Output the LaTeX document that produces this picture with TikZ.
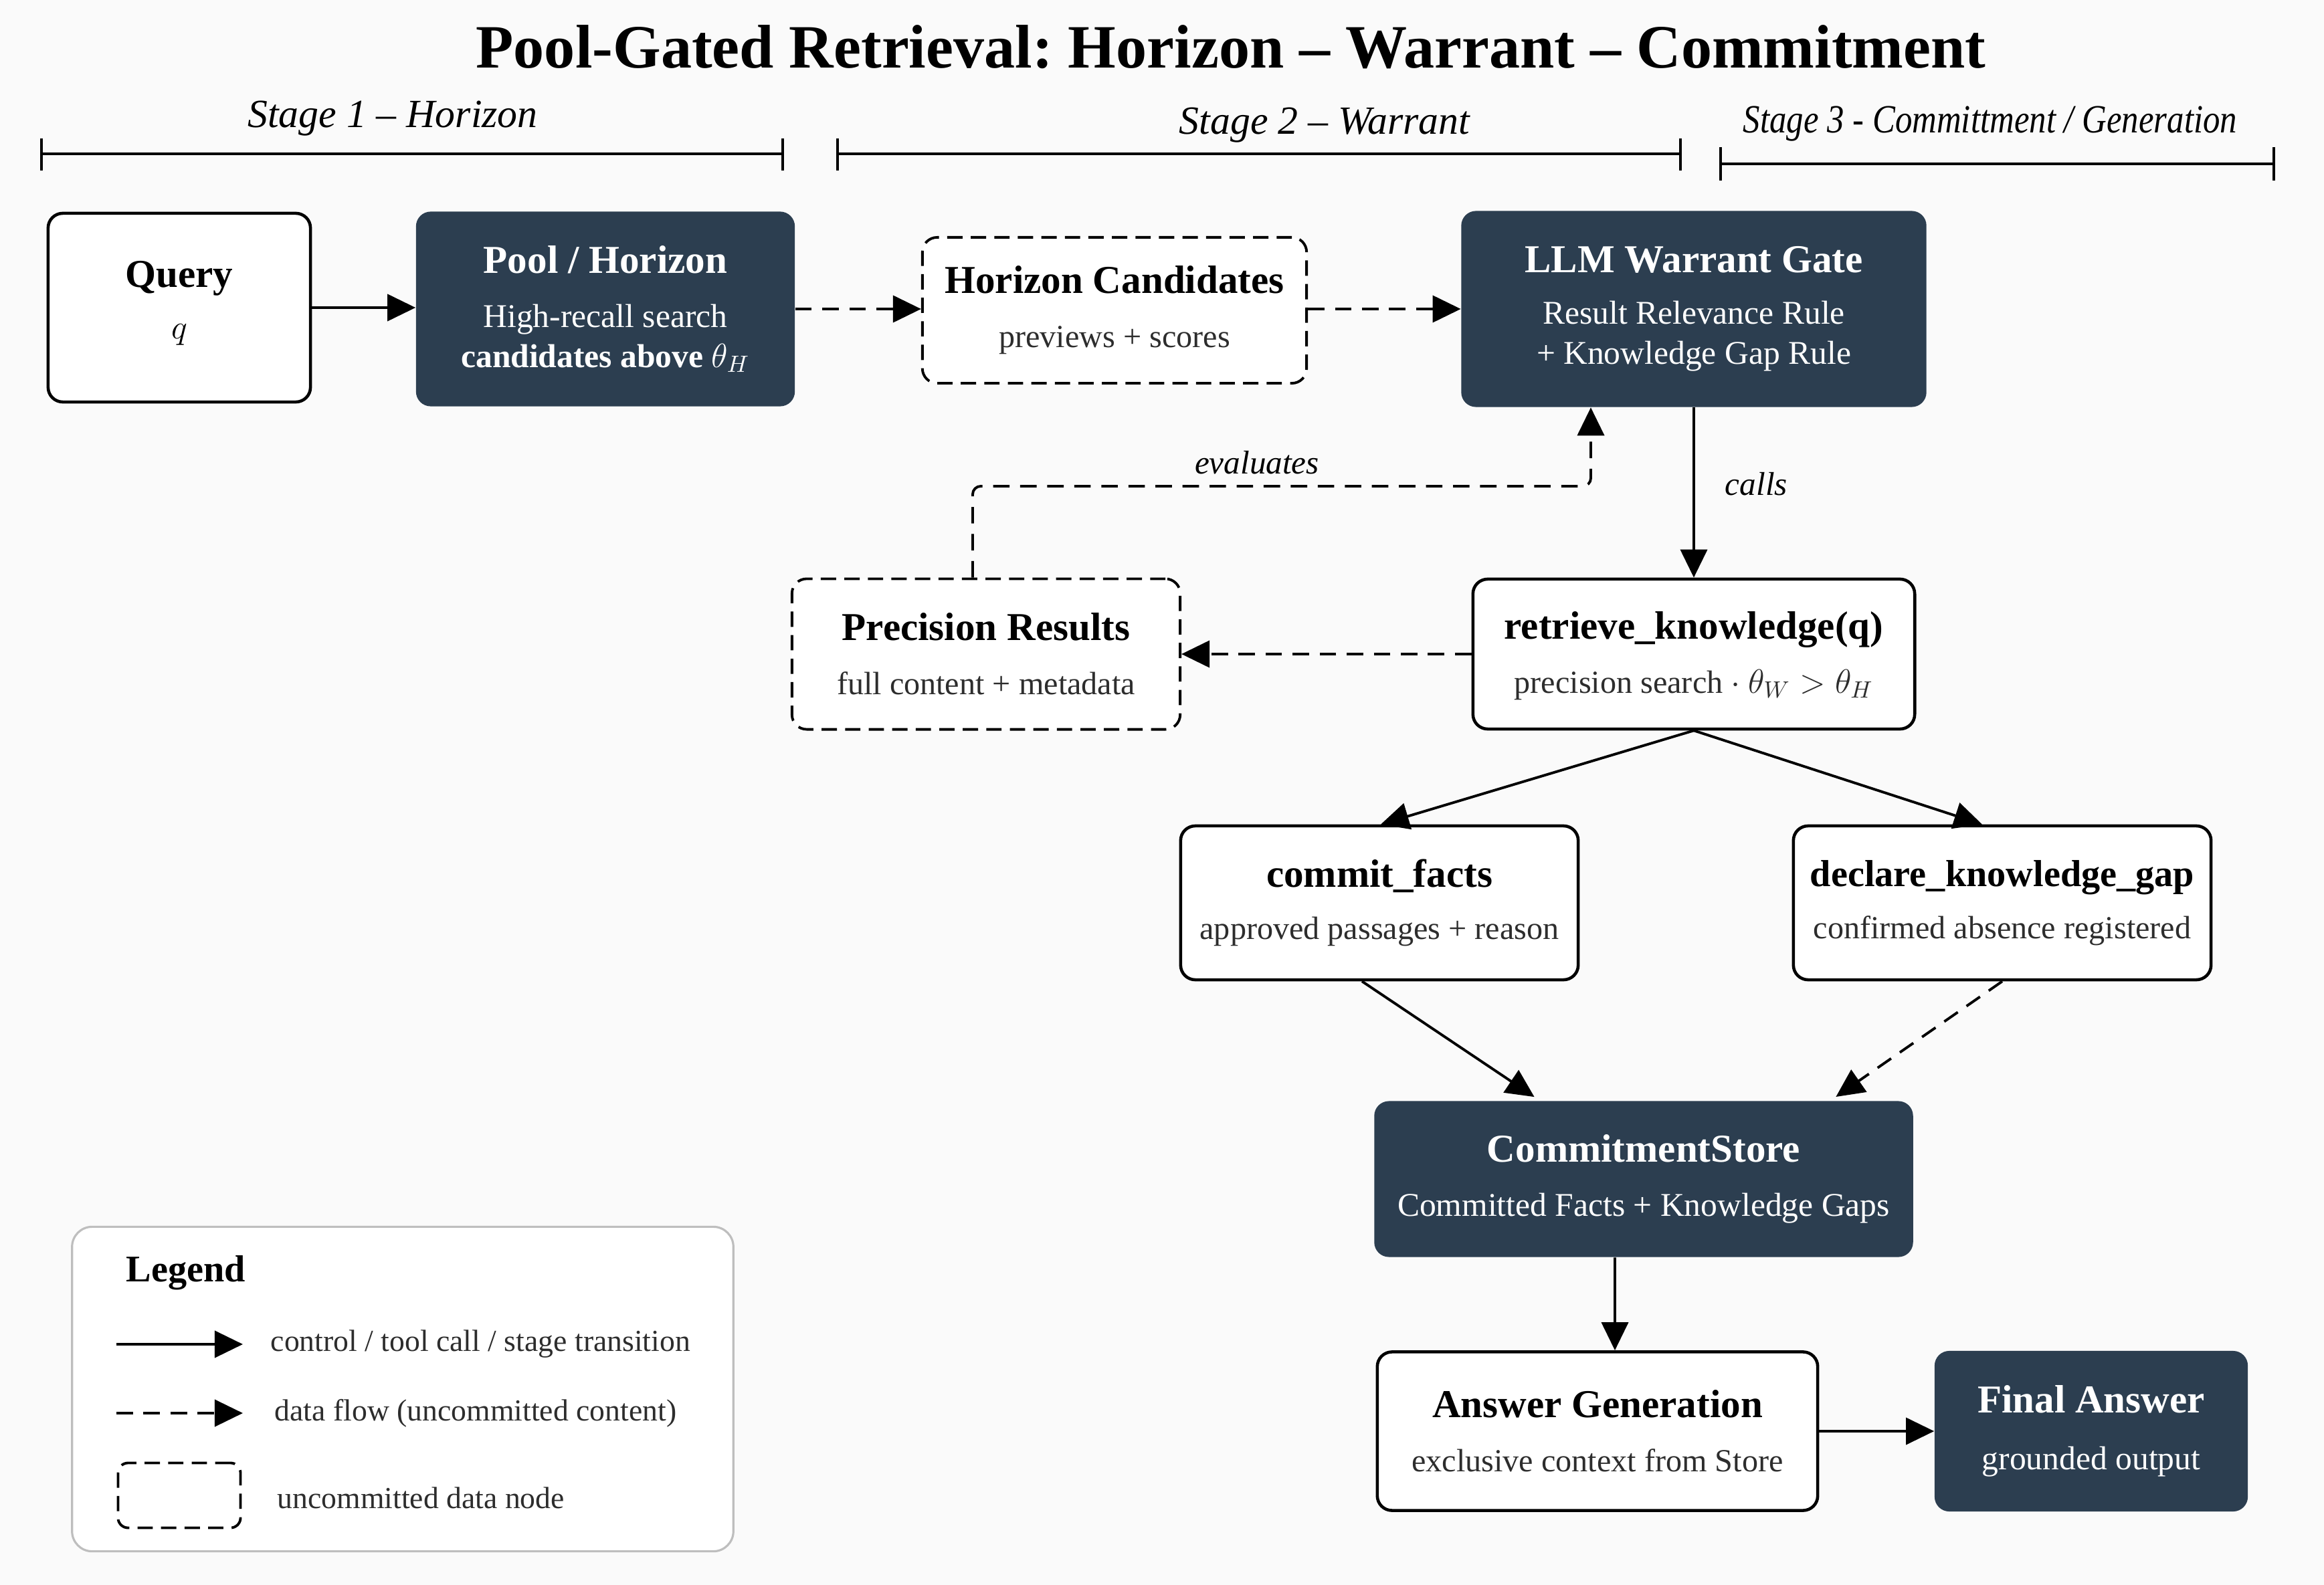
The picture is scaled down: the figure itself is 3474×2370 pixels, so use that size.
\documentclass[tikz,border=0pt]{standalone}
\usepackage{fontspec}
\setmainfont{Liberation Serif}
\usetikzlibrary{arrows.meta}
\frenchspacing
\definecolor{navy}{RGB}{44,62,80}
\definecolor{bgc}{RGB}{250,250,250}
\definecolor{leggray}{RGB}{190,190,190}
\definecolor{subgray}{RGB}{45,45,45}
\newcommand{\myttl}[1]{{\fontsize{16.8}{20}\selectfont\bfseries #1}}
\newcommand{\mysub}[1]{{\fontsize{13.7}{17}\selectfont\color{subgray}#1}}
\tikzset{
  nd/.style={rounded corners=0.22cm, inner sep=0pt, align=center,
             font=\fontsize{14.1}{17}\selectfont},
  whitebox/.style={nd, draw=black, fill=white, line width=1.3pt},
  darkbox/.style={nd, fill=navy, text=white},
  databox/.style={nd, draw=black, fill=white, line width=1.1pt,
                  dash pattern=on 6.5pt off 3.5pt},
  ctrl/.style={line width=1.1pt, -{Triangle[length=0.42cm,width=0.4cm]}},
  data/.style={line width=1.1pt, dash pattern=on 7pt off 4.5pt,
               -{Triangle[length=0.42cm,width=0.4cm]}},
  edgelbl/.style={font=\fontsize{14}{17}\selectfont\itshape, inner sep=0pt},
  stagelbl/.style={font=\fontsize{17}{20}\selectfont\itshape, inner sep=0pt},
  stagebar/.style={line width=1.4pt},
  stagetick/.style={line width=0.9pt},
  legtxt/.style={font=\fontsize{13}{16}\selectfont, text=subgray, inner sep=0pt, anchor=west},
}
\begin{document}
\begin{tikzpicture}[x=0.01cm,y=-0.01cm]
\useasboundingbox (0,0) rectangle (3474,2370);
\fill[bgc] (0,0) rectangle (3474,2370);

% title
\node[font=\fontsize{26.2}{30}\selectfont\bfseries, inner sep=0pt] (title) at (1840,70)
  {Pool-Gated Retrieval: Horizon – Warrant – Commitment};

% stage labels and bars
\node[stagelbl] (s1) at (587,177) {Stage 1 – Horizon};
\node[stagelbl] (s2) at (1980,187) {Stage 2 – Warrant};
\node[stagelbl] (s3) at (2975,185) {\scalebox{0.85}[1]{Stage 3 - Committment / Generation}};
\draw[stagebar] (62,230) -- (1170,230);
\draw[stagetick] (62,207) -- (62,255);
\draw[stagetick] (1170,207) -- (1170,255);
\draw[stagebar] (1252,230) -- (2512,230);
\draw[stagetick] (1252,207) -- (1252,255);
\draw[stagetick] (2512,207) -- (2512,255);
\draw[stagebar] (2572,245) -- (3399,245);
\draw[stagetick] (2572,220) -- (2572,270);
\draw[stagetick] (3399,220) -- (3399,270);

% nodes
\node[whitebox, minimum width=3.92cm, minimum height=2.82cm] (query) at (268,460)
  {\myttl{Query}\\[5pt] $q$\\[-10.5pt]\mbox{}};
\node[darkbox, minimum width=5.66cm, minimum height=2.91cm] (pool) at (905,462)
  {\myttl{Pool / Horizon}\\[6pt] High-recall search\\ \textbf{candidates above $\theta_H$}};
\node[databox, minimum width=5.74cm, minimum height=2.18cm] (hc) at (1666,464)
  {\myttl{Horizon Candidates}\\[6pt] \mysub{previews + scores}};
\node[darkbox, minimum width=6.95cm, minimum height=2.93cm] (llm) at (2532,462)
  {\myttl{LLM Warrant Gate}\\[5pt] Result Relevance Rule\\ + Knowledge Gap Rule};
\node[databox, minimum width=5.80cm, minimum height=2.25cm] (prec) at (1474,978)
  {\myttl{Precision Results}\\[6pt] \mysub{full content + metadata}};
\node[whitebox, minimum width=6.60cm, minimum height=2.24cm] (retr) at (2532,978)
  {\rule{0pt}{0pt}\\[-4pt]\myttl{retrieve\_knowledge(q)}\\[6pt] \mysub{precision search $\cdot$ $\theta_W > \theta_H$}};
\node[whitebox, minimum width=5.94cm, minimum height=2.30cm] (cf) at (2062,1350)
  {\myttl{commit\_facts}\\[5pt] \mysub{approved passages + reason}};
\node[whitebox, minimum width=6.24cm, minimum height=2.30cm] (dkg) at (2993,1350)
  {{\fontsize{16}{20}\selectfont\bfseries declare\_knowledge\_gap}\\[5pt] \mysub{confirmed absence registered}};
\node[darkbox, minimum width=8.05cm, minimum height=2.33cm] (cs) at (2457,1763)
  {\myttl{CommitmentStore}\\[6pt] Committed Facts + Knowledge Gaps};
\node[whitebox, minimum width=6.58cm, minimum height=2.37cm] (ag) at (2388,2140)
  {\myttl{Answer Generation}\\[6pt] \mysub{exclusive context from Store}};
\node[darkbox, minimum width=4.68cm, minimum height=2.40cm] (fa) at (3126,2140)
  {\myttl{Final Answer}\\[7pt] grounded output};

% connectors
\draw[ctrl] (query.east) -- (pool.west |- query.east);
\draw[data] (pool.east) -- (hc.west |- pool.east);
\draw[data] (hc.east |- llm.west) -- (llm.west);
\draw[ctrl] (llm.south) -- (retr.north)
  node[edgelbl, pos=0.45, right=0.45cm] (callsl) {calls};
\draw[data] (retr.west) -- (prec.east);
\coordinate (evs) at (1454,900);
\coordinate (evk) at (2378,727);
\draw[data, rounded corners=0.12cm] (evs |- prec.north) |- (evk) -- (evk |- llm.south);
\node[edgelbl] (evl) at (1879,692) {evaluates};
\draw[ctrl] (retr.south) -- ([xshift=0.02cm]cf.north);
\draw[ctrl] (retr.south) -- ([xshift=-0.30cm]dkg.north);
\draw[ctrl, shorten >=0.1cm] ([xshift=-0.26cm]cf.south) -- ([xshift=-1.55cm]cs.north);
\draw[data, shorten >=0.1cm] (dkg.south) -- ([xshift=2.79cm]cs.north);
\draw[ctrl] ([xshift=-0.43cm]cs.south) -- ([xshift=0.26cm]ag.north);
\draw[ctrl] (ag.east) -- (fa.west |- ag.east);

% legend
\node[draw=leggray, fill=white, line width=0.9pt, rounded corners=0.3cm,
      minimum width=9.88cm, minimum height=4.85cm, inner sep=0pt] (legend) at (602,2077) {};
\node[font=\fontsize{16}{19}\selectfont\bfseries, inner sep=0pt, anchor=west] (legt) at (188,1903) {Legend};
\coordinate (l1a) at (174,2010);
\coordinate (l1b) at (363,2010);
\draw[ctrl] (l1a) -- (l1b);
\node[legtxt] (l1) at (404,2010) {control / tool call / stage transition};
\coordinate (l2a) at (174,2113);
\coordinate (l2b) at (363,2113);
\draw[data] (l2a) -- (l2b);
\node[legtxt] (l2) at (410,2113) {data flow (uncommitted content)};
\node[databox, rounded corners=0.15cm, minimum width=1.83cm, minimum height=0.97cm] (l3box) at (268,2236) {};
\node[legtxt] (l3) at (414,2240) {uncommitted data node};
\end{tikzpicture}
\end{document}
